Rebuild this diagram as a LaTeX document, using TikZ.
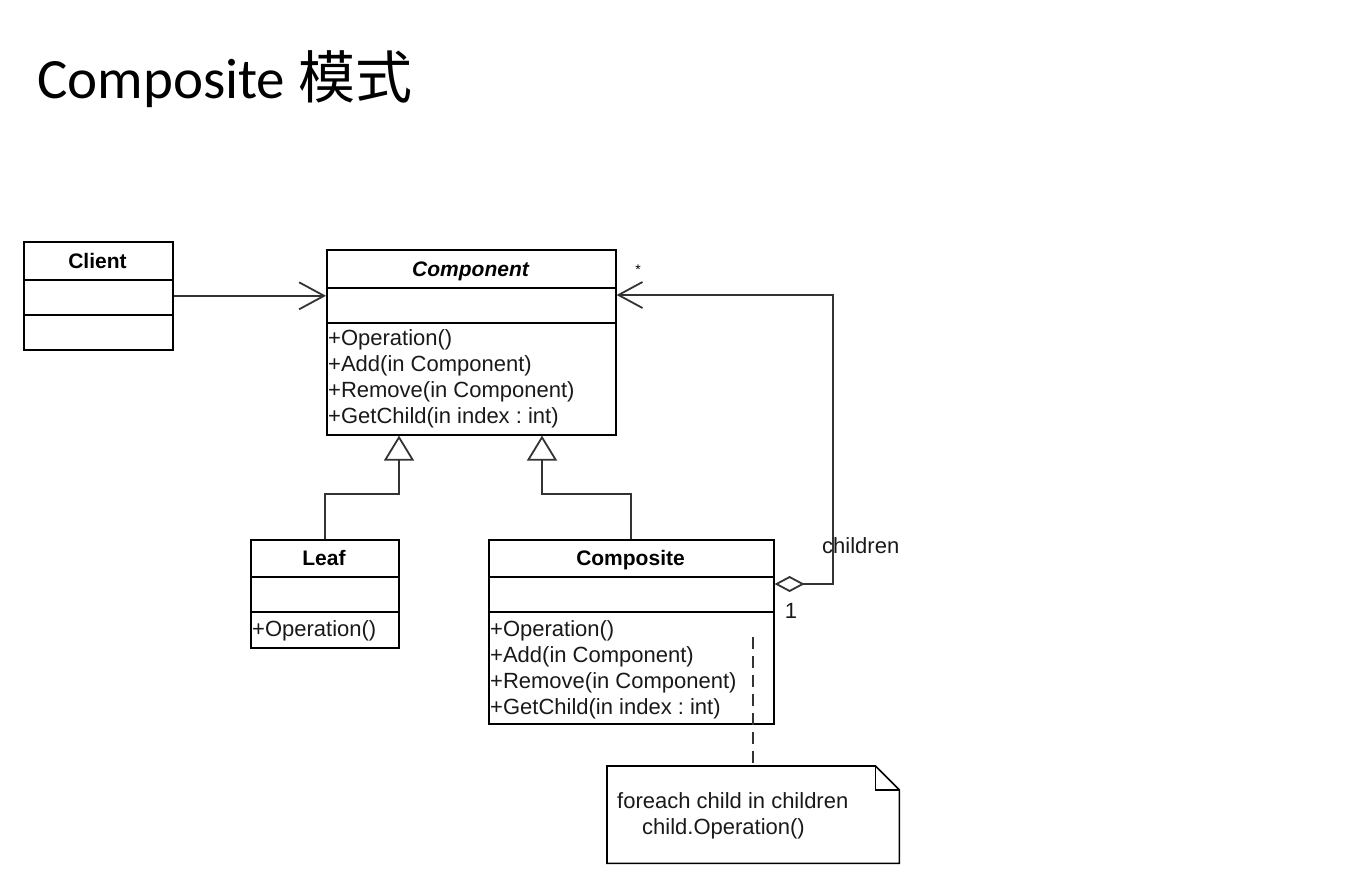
\documentclass[tikz,border=0pt]{standalone}
\usepackage{fontspec}
\setmainfont{Liberation Sans}
\newfontfamily\titlefont{Carlito}
\newfontfamily\cjk{Noto Sans CJK SC}
\usepackage{tikz}
\usetikzlibrary{positioning,calc,arrows.meta}
\frenchspacing

\begin{document}
\begin{tikzpicture}[x=1pt, y=-1pt,
    umlbox/.style={draw, line width=1.6pt, inner sep=0pt, anchor=north west},
    sep/.style={line width=1.6pt},
    umltext/.style={font=\fontsize{22}{26}\selectfont, inner sep=0pt, text=black!90},
    method/.style={umltext, anchor=base west},
    cname/.style={font=\fontsize{21}{26}\selectfont\bfseries, inner sep=0pt, anchor=base},
    link/.style={line width=1.8pt, draw=black!80},
    assoc/.style={link, -{Straight Barb[length=25pt, width=27pt]}},
    gen/.style={link, -{Triangle[open, length=25pt, width=30pt]}},
    aggr/.style={link, {Diamond[open, length=30pt, width=16pt]}-{Straight Barb[length=24pt, width=26pt]}}]
    \useasboundingbox (0,0) rectangle (1370,873);
    \node[anchor=base west, inner sep=0pt, font=\titlefont\fontsize{57}{62}\selectfont] (title) at (37,98) {Composite {\cjk 模式}};
    % Client
    \node[umlbox, minimum width=149pt, minimum height=108pt] (client) at (23,241) {};
    \foreach \y in {280,315} \draw[sep] (client.west |- 0,\y) -- (client.east |- 0,\y);
    \node[cname] (clientname) at (97.5,268) {Client};
    % Component
    \node[umlbox, minimum width=289pt, minimum height=185pt] (comp) at (326,249) {};
    \foreach \y in {288,323} \draw[sep] (comp.west |- 0,\y) -- (comp.east |- 0,\y);
    \node[cname, font=\fontsize{21}{26}\selectfont\bfseries\itshape] (compname) at (470.5,276) {Component};
    \foreach \m [count=\i] in {+Operation(), +Add(in Component), +Remove(in Component), +GetChild(in index : int)}
        \node[method] (compm\i) at (328,319+26*\i) {\m};
    % Leaf
    \node[umlbox, minimum width=148pt, minimum height=108pt] (leaf) at (250,539) {};
    \foreach \y in {577,612} \draw[sep] (leaf.west |- 0,\y) -- (leaf.east |- 0,\y);
    \node[cname] (leafname) at (324,565) {Leaf};
    \node[method] (leafm1) at (252,636) {+Operation()};
    % Composite
    \node[umlbox, minimum width=285pt, minimum height=184pt] (compo) at (488,539) {};
    \foreach \y in {577,612} \draw[sep] (compo.west |- 0,\y) -- (compo.east |- 0,\y);
    \node[cname] (componame) at (630.5,565) {Composite};
    \foreach \m [count=\i] in {+Operation(), +Add(in Component), +Remove(in Component), +GetChild(in index : int)}
        \node[method] (compom\i) at (490,610+26*\i) {\m};
    % note
    \node[anchor=north west, minimum width=292pt, minimum height=97pt, inner sep=0pt] (note) at (607,766) {};
    \draw[sep] (note.north west) -- ($(note.north east)+(-24,0)$) -- ($(note.north east)+(0,24)$) -- (note.south east) -- (note.south west) -- cycle;
    \draw[line width=1.4pt] ($(note.north east)+(-24,0)$) -- ($(note.north east)+(-24,24)$) -- ($(note.north east)+(0,24)$);
    \node[method] (notel1) at (617,808) {foreach child in children};
    \node[method] (notel2) at (642,834) {child.Operation()};
    % connectors
    \coordinate (genL) at ($(comp.south west)+(73,0)$);
    \coordinate (genR) at ($(comp.south west)+(216,0)$);
    \draw[gen] (leaf.north) -- ++(0,-45) -| (genL);
    \draw[gen] (compo.north) -- ++(0,-45) -| (genR);
    \draw[assoc] (client.east) -- (client.east -| comp.west);
    \coordinate (agg) at ($(compo.north east)+(0,45)$);
    \coordinate (compin) at ($(comp.north east)+(0,46)$);
    \draw[aggr] (agg) -- ++(58,0) |- (compin);
    \coordinate (dashtop) at (753,637);
    \draw[link, dash pattern=on 12pt off 7pt] (dashtop) -- (dashtop |- note.north);
    \node[font=\fontsize{14}{16}\selectfont, inner sep=0pt, anchor=base] (star) at (638,274) {*};
    \node[umltext, anchor=base west] (childlbl) at (822,553) {children};
    \node[umltext, anchor=base] (one) at (791,618) {1};
\end{tikzpicture}
\end{document}
